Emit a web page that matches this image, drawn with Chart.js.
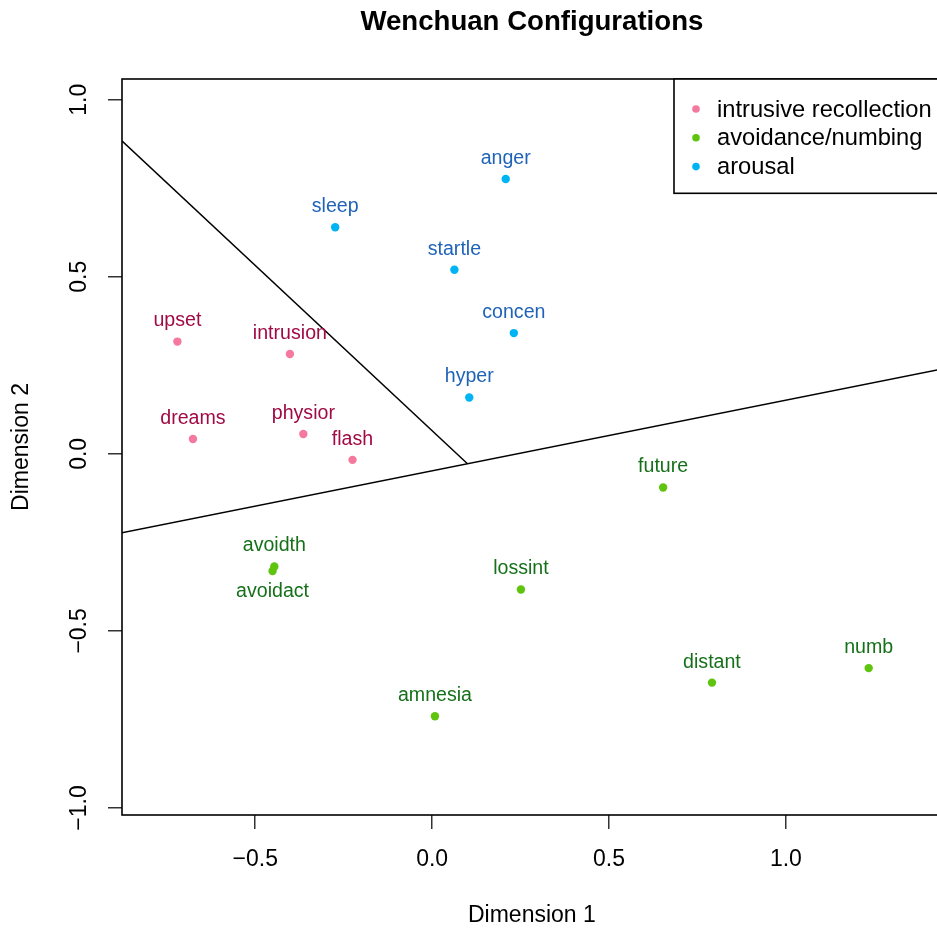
<!DOCTYPE html>
<html>
<head>
<meta charset="utf-8">
<title>Wenchuan Configurations</title>
<script src="https://cdn.jsdelivr.net/npm/chart.js@4/dist/chart.umd.min.js"></script>
<style>
  html, body { margin: 0; padding: 0; background: #ffffff; overflow: hidden; }
  #wrap { width: 946px; height: 932px; }
  canvas { display: block; }
</style>
</head>
<body>
<div id="wrap"><canvas id="mds" width="946" height="932"></canvas></div>
<script>
// Symptom coordinates on the two MDS dimensions, by cluster
const intrusiveNames = ['upset', 'intrusion', 'dreams', 'physior', 'flash'];
const intrusiveDim1  = [-0.720, -0.402, -0.676, -0.364, -0.225];
const intrusiveDim2  = [ 0.317,  0.282,  0.042,  0.056, -0.017];

const avoidanceNames = ['avoidth', 'avoidact', 'lossint', 'future', 'amnesia', 'distant', 'numb'];
const avoidanceDim1  = [-0.446, -0.451,  0.251,  0.653,  0.008,  0.791,  1.234];
const avoidanceDim2  = [-0.318, -0.331, -0.383, -0.095, -0.741, -0.646, -0.605];

const arousalNames = ['anger', 'sleep', 'startle', 'concen', 'hyper'];
const arousalDim1  = [0.208, -0.274, 0.063, 0.231, 0.105];
const arousalDim2  = [0.776,  0.640, 0.520, 0.341, 0.159];

// Labels written underneath their point instead of above it
const labelsBelow = ['avoidact'];

// Region boundaries (two straight segments)
const boundaryA = [[-0.877, 0.884], [0.100, -0.028]];
const boundaryB = [[-0.877, -0.223], [1.442, 0.240]];

// Axis ranges and ticks
const dim1Range = [-0.8766, 1.4407];
const dim2Range = [-1.0198, 1.0585];
const dim1TickValues = [-0.5, 0.0, 0.5, 1.0];
const dim1TickLabels = ['\u22120.5', '0.0', '0.5', '1.0'];
const dim2TickValues = [-1.0, -0.5, 0.0, 0.5, 1.0];
const dim2TickLabels = ['\u22121.0', '\u22120.5', '0.0', '0.5', '1.0'];

const FONT = '"Liberation Sans", Arial, Helvetica, sans-serif';

function toPoints(xs, ys) {
  return xs.map((x, i) => ({ x: x, y: ys[i] }));
}

const groups = [
  { label: 'intrusive recollection', names: intrusiveNames, xs: intrusiveDim1, ys: intrusiveDim2,
    point: '#F5799E', text: '#A00A45' },
  { label: 'avoidance/numbing', names: avoidanceNames, xs: avoidanceDim1, ys: avoidanceDim2,
    point: '#5EC40E', text: '#16701A' },
  { label: 'arousal', names: arousalNames, xs: arousalDim1, ys: arousalDim2,
    point: '#00B4F4', text: '#1F63B8' }
];

const datasets = groups.map(g => ({
  type: 'scatter',
  label: g.label,
  names: g.names,
  textColor: g.text,
  data: toPoints(g.xs, g.ys),
  backgroundColor: g.point,
  borderWidth: 0,
  pointRadius: 4.2,
  pointHoverRadius: 4.2
}));

[boundaryA, boundaryB].forEach(seg => {
  datasets.push({
    type: 'line',
    label: '',
    isBoundary: true,
    data: seg.map(p => ({ x: p[0], y: p[1] })),
    borderColor: '#000000',
    borderWidth: 1.5,
    pointRadius: 0,
    fill: false,
    tension: 0
  });
});

// Frame, rotated y tick labels, point labels, title and legend box
const decorations = {
  id: 'decorations',
  afterDatasetsDraw(chart) {
    const ctx = chart.ctx;

    // point labels
    ctx.save();
    ctx.font = '19.6px ' + FONT;
    ctx.textAlign = 'center';
    ctx.textBaseline = 'middle';
    chart.data.datasets.forEach((ds, di) => {
      if (!ds.names) return;
      const meta = chart.getDatasetMeta(di);
      ctx.fillStyle = ds.textColor;
      meta.data.forEach((el, i) => {
        const name = ds.names[i];
        const dy = labelsBelow.includes(name) ? 20.5 : -20.5;
        ctx.fillText(name, el.x, el.y + dy);
      });
    });
    ctx.restore();
  },
  afterDraw(chart) {
    const ctx = chart.ctx;
    const area = chart.chartArea;

    // plot frame
    ctx.save();
    ctx.strokeStyle = '#000000';
    ctx.lineWidth = 1.6;
    ctx.strokeRect(area.left, area.top, area.right - area.left, area.bottom - area.top);
    ctx.restore();

    // y tick labels, written sideways
    const ys = chart.scales.y;
    ctx.save();
    ctx.font = '23px ' + FONT;
    ctx.fillStyle = '#000000';
    ctx.textAlign = 'center';
    ctx.textBaseline = 'middle';
    dim2TickValues.forEach((v, i) => {
      const py = ys.getPixelForValue(v);
      ctx.save();
      ctx.translate(80, py);
      ctx.rotate(-Math.PI / 2);
      ctx.fillText(dim2TickLabels[i], 0, 0);
      ctx.restore();
    });
    ctx.restore();

    // title, centred over the plot region
    ctx.save();
    ctx.font = 'bold 27.6px ' + FONT;
    ctx.fillStyle = '#000000';
    ctx.textAlign = 'center';
    ctx.textBaseline = 'middle';
    ctx.fillText('Wenchuan Configurations', (area.left + area.right) / 2, 22);
    ctx.restore();

    // legend box in the top right corner
    const boxLeft = 674, boxTop = area.top, boxBottom = 193.3;
    ctx.save();
    ctx.fillStyle = '#ffffff';
    ctx.fillRect(boxLeft, boxTop, area.right - boxLeft, boxBottom - boxTop);
    ctx.strokeStyle = '#000000';
    ctx.lineWidth = 1.6;
    ctx.strokeRect(boxLeft, boxTop, area.right - boxLeft, boxBottom - boxTop);
    ctx.font = '23.7px ' + FONT;
    ctx.textAlign = 'left';
    ctx.textBaseline = 'middle';
    const rows = chart.data.datasets.filter(d => d.names);
    rows.forEach((ds, i) => {
      const cy = 109 + i * 28.8;
      ctx.fillStyle = ds.backgroundColor;
      ctx.beginPath();
      ctx.arc(696, cy, 3.8, 0, Math.PI * 2);
      ctx.fill();
      ctx.fillStyle = '#000000';
      ctx.fillText(ds.label, 717, cy + 1);
    });
    ctx.restore();
  }
};

new Chart(document.getElementById('mds'), {
  data: { datasets: datasets },
  plugins: [decorations],
  options: {
    responsive: false,
    animation: false,
    events: [],
    layout: { padding: { left: 0, top: 79, right: 4, bottom: 0 } },
    plugins: {
      legend: { display: false },
      tooltip: { enabled: false },
      title: { display: false }
    },
    scales: {
      x: {
        type: 'linear',
        position: 'bottom',
        min: dim1Range[0],
        max: dim1Range[1],
        afterBuildTicks: s => { s.ticks = dim1TickValues.map(v => ({ value: v })); },
        afterFit: s => { s.height = 117; },
        border: { display: false },
        grid: {
          drawOnChartArea: false,
          drawTicks: true,
          tickLength: 14,
          lineWidth: 1.5,
          color: '#333333'
        },
        ticks: {
          padding: 17,
          maxRotation: 0,
          minRotation: 0,
          color: '#000000',
          font: { family: FONT, size: 23 },
          callback: (value, index) => dim1TickLabels[index]
        },
        title: {
          display: true,
          text: 'Dimension 1',
          color: '#000000',
          font: { family: FONT, size: 23 },
          padding: { top: 0, bottom: 3 }
        }
      },
      y: {
        type: 'linear',
        position: 'left',
        min: dim2Range[0],
        max: dim2Range[1],
        afterBuildTicks: s => { s.ticks = dim2TickValues.map(v => ({ value: v })); },
        afterFit: s => { s.width = 122; },
        border: { display: false },
        grid: {
          drawOnChartArea: false,
          drawTicks: true,
          tickLength: 14,
          lineWidth: 1.5,
          color: '#333333'
        },
        ticks: { display: false },
        title: {
          display: true,
          text: 'Dimension 2',
          color: '#000000',
          font: { family: FONT, size: 23 },
          padding: { top: 8, bottom: 0 }
        }
      }
    }
  }
});
</script>
</body>
</html>
